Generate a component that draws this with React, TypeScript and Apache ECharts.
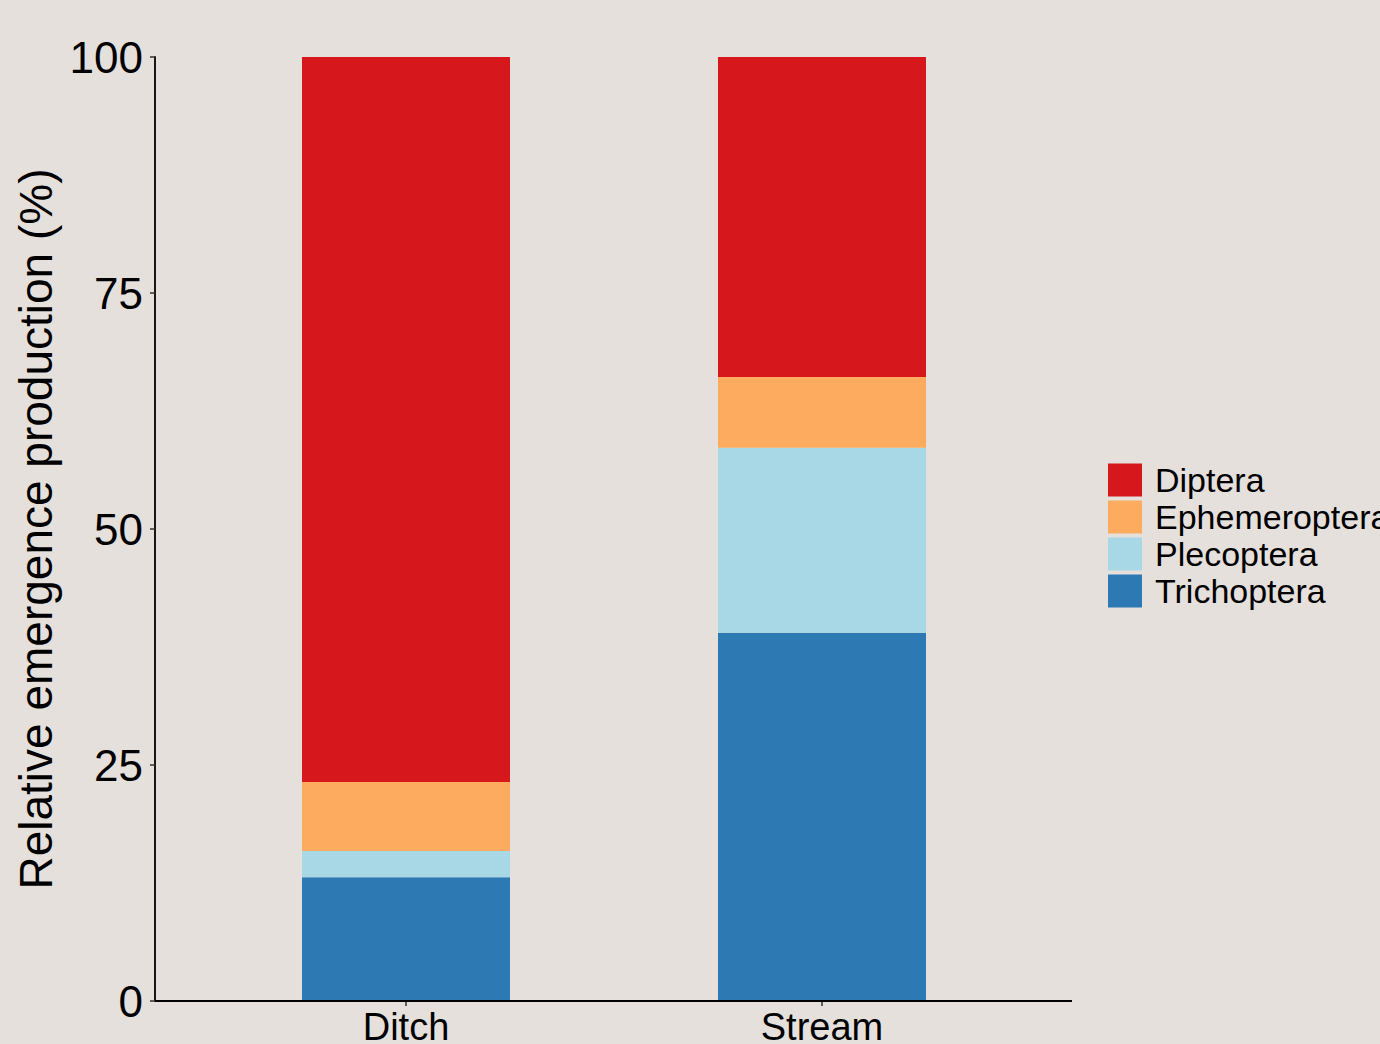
import React, { useEffect, useRef } from "react";
import * as echarts from "echarts";

const categories = ["Ditch", "Stream"];
const seriesNames = ["Trichoptera", "Plecoptera", "Ephemeroptera", "Diptera"];
const trichoptera = [13.1, 39.0];
const plecoptera = [2.8, 19.6];
const ephemeroptera = [7.3, 7.5];
const diptera = [76.8, 33.9];
const colors = ["#2C79B3", "#A8D8E6", "#FDAC5F", "#D6181C"];
const yTicks = [0, 25, 50, 75, 100];
const legendOrder = ["Diptera", "Ephemeroptera", "Plecoptera", "Trichoptera"];

const FONT = "Liberation Sans, Arial, Helvetica, sans-serif";

export default function App() {
  const ref = useRef<HTMLDivElement>(null);
  useEffect(() => {
    document.body.style.margin = "0";
    const chart = echarts.init(ref.current!, undefined, { renderer: "svg" });
    const values = [trichoptera, plecoptera, ephemeroptera, diptera];
    // panel spans x 155..1072; bars occupy the inner band 198..1030 (ggplot's 0.6 expansion)
    const panelLeft = 155;
    const panelRight = 1072;
    const panelBottom = 1001;
    const innerLeft = 198;
    const innerRight = 1030;
    chart.setOption({
      animation: false,
      backgroundColor: "#E5E0DC",
      grid: {
        left: innerLeft,
        top: 57,
        right: 1380 - innerRight,
        bottom: 1044 - panelBottom,
        containLabel: false,
        outerBoundsMode: "none",
      },
      legend: {
        data: legendOrder,
        orient: "vertical",
        left: 1108,
        top: 463,
        itemWidth: 34,
        itemHeight: 33,
        itemGap: 3,
        padding: 0,
        icon: "rect",
        textStyle: {
          fontFamily: FONT,
          fontSize: 34,
          color: "#000",
          lineHeight: 33,
          padding: [0, 0, 0, 8],
        },
      },
      graphic: [
        {
          type: "line",
          shape: { x1: panelLeft, y1: panelBottom, x2: panelRight, y2: panelBottom },
          style: { stroke: "#000", lineWidth: 1.8 },
          z: 10,
        },
      ],
      xAxis: {
        type: "category",
        data: categories,
        boundaryGap: true,
        splitLine: { show: false },
        axisLine: { show: false },
        axisTick: {
          show: true,
          alignWithLabel: true,
          length: 5,
          lineStyle: { color: "#333", width: 1.5 },
        },
        axisLabel: {
          fontFamily: FONT,
          fontSize: 38,
          color: "#000",
          margin: 7,
        },
      },
      yAxis: {
        type: "value",
        min: 0,
        max: 100,
        interval: 25,
        offset: innerLeft - panelLeft,
        name: "Relative emergence production (%)",
        nameLocation: "middle",
        nameGap: 96,
        nameTextStyle: { fontFamily: FONT, fontSize: 46, color: "#000" },
        splitLine: { show: false },
        axisLine: { show: true, lineStyle: { color: "#000", width: 1.8 } },
        axisTick: { show: true, length: 5, lineStyle: { color: "#333", width: 1.5 } },
        axisLabel: {
          fontFamily: FONT,
          fontSize: 44,
          color: "#000",
          margin: 12,
          formatter: (v: number) => (yTicks.includes(v) ? String(v) : ""),
        },
      },
      series: seriesNames.map((name, si) => ({
        name,
        type: "bar",
        stack: "total",
        barWidth: 208,
        itemStyle: { color: colors[si] },
        data: values[si],
      })),
    });
    return () => chart.dispose();
  }, []);
  return (
    <div
      ref={ref}
      style={{ position: "fixed", left: 0, top: 0, width: 1380, height: 1044 }}
    />
  );
}
